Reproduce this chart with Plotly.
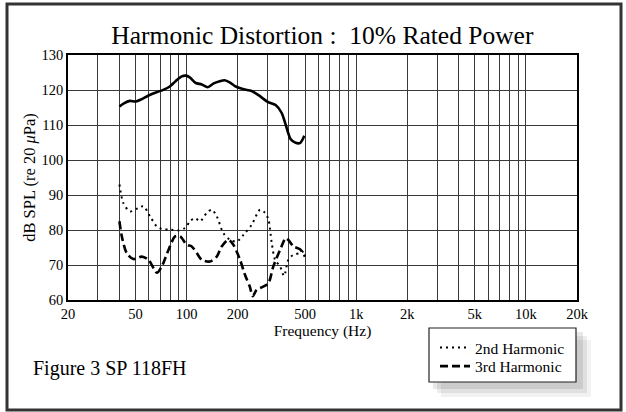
import plotly.graph_objects as go

# ---- data ----
fund_freq = [40.2, 42.7, 46.3, 50.2, 54.5, 60.1, 65.9, 73.4, 79.6, 86.4, 93.7, 98.9, 104.4,
             113.2, 122.8, 133.2, 144.5, 156.8, 167.3, 179.5, 194.6, 217, 241.8, 269.5,
             300.4, 334.7, 362.9, 383.2, 411, 438.8, 468, 494]
fund_db = [115.3, 116.2, 116.9, 116.7, 117.4, 118.5, 119.3, 120.1, 121.0, 122.6, 123.9, 124.1, 123.6,
           122.0, 121.6, 120.8, 121.9, 122.5, 122.8, 122.2, 121.0, 120.2, 119.7, 118.3,
           116.6, 115.7, 113.5, 110.2, 105.9, 104.9, 104.9, 106.9]

h2_freq = [40.2, 42.4, 46.4, 52.0, 55.6, 60.9, 66.8, 71.4, 80, 89.4, 98, 104.9, 112.2, 120.1,
           131.5, 140.8, 150.6, 164.8, 180.4, 197.6, 216.2, 242, 271, 290, 303.5, 317.5,
           332, 355.6, 375.5, 398, 425.9, 466.3, 499]
h2_db = [93.0, 87.7, 85.3, 86.3, 86.8, 83.9, 81.0, 80.3, 80.1, 79.9, 80.6, 82.5, 83.4, 82.5,
         84.9, 85.8, 83.9, 79.1, 77.2, 76.7, 78.6, 81.5, 85.8, 84.9, 83.0, 76.3,
         71.5, 69.6, 66.9, 71.5, 72.9, 73.4, 74.3]

h3_freq = [40.2, 41.5, 44.4, 48.6, 54.4, 59.6, 66.8, 71.4, 78.2, 85.6, 91.6, 100.2, 107.2, 114.8,
           122.8, 137.5, 150.6, 161, 176.3, 188.6, 206.5, 220.8, 236, 245, 259, 282.7,
           303.5, 324.5, 355.6, 385, 405, 426, 466, 499]
h3_db = [82.5, 78.2, 73.4, 71.7, 72.4, 71.5, 67.8, 69.6, 74.3, 78.2, 78.2, 75.8, 75.3, 73.4,
         71.5, 71.0, 72.4, 75.3, 77.2, 75.8, 71.5, 67.2, 63.8, 61.1, 62.9, 63.8,
         64.8, 69.6, 74.3, 77.7, 76.7, 75.3, 74.5, 72.4]

grid_vals = [20, 30, 40, 50, 60, 70, 80, 90, 100, 200, 300, 400, 500, 600, 700, 800, 900,
             1000, 2000, 3000, 4000, 5000, 6000, 7000, 8000, 9000, 10000, 20000]
x_labels = {20: "20", 50: "50", 100: "100", 200: "200", 500: "500", 1000: "1k",
            2000: "2k", 5000: "5k", 10000: "10k", 20000: "20k"}
y_ticks = [60, 70, 80, 90, 100, 110, 120, 130]

W, H = 626, 412
L, R, T, B = 68, 577, 55, 300


def px(x):
    return (x - L) / (R - L)


def py(y):
    return (B - y) / (B - T)


FONT = "Liberation Serif"

fig = go.Figure()
fig.add_trace(go.Scatter(x=fund_freq, y=fund_db, mode="lines", showlegend=False,
                         line=dict(color="black", width=2.6, shape="spline", smoothing=0.8)))
fig.add_trace(go.Scatter(x=h2_freq, y=h2_db, mode="lines", name="2nd Harmonic", legend="legend",
                         line=dict(color="black", width=2, dash="2px,4px", shape="spline", smoothing=0.8)))
fig.add_trace(go.Scatter(x=h3_freq, y=h3_db, mode="lines", name="3rd Harmonic", legend="legend2",
                         line=dict(color="black", width=2.6, dash="8px,4px", shape="spline", smoothing=0.8)))

shapes = []
# legend shadow (soft)
for op, d in [(0.05, 12), (0.07, 8), (0.09, 4)]:
    shapes.append(dict(type="rect", xref="paper", yref="paper",
                       x0=px(429 + d), x1=px(576 + d + 3), y0=py(382 + d + 3), y1=py(328 + d),
                       line=dict(width=0), fillcolor=f"rgba(0,0,0,{op})", layer="below"))
# legend box
shapes.append(dict(type="rect", xref="paper", yref="paper",
                   x0=px(429), x1=px(576), y0=py(382), y1=py(328),
                   line=dict(color="#222", width=1.2), fillcolor="white", layer="below"))
# outer frame
shapes.append(dict(type="rect", xref="paper", yref="paper",
                   x0=px(7), x1=px(621), y0=py(410), y1=py(4),
                   line=dict(color="#333", width=3), fillcolor="rgba(0,0,0,0)"))

leg_common = dict(xanchor="left", yanchor="middle", bgcolor="rgba(0,0,0,0)", borderwidth=0,
                  font=dict(family=FONT, size=15.5))

fig.update_layout(
    width=W, height=H,
    margin=dict(l=L, r=W - R, t=T, b=H - B),
    paper_bgcolor="white", plot_bgcolor="white",
    font=dict(family=FONT, color="black", size=14),
    title=dict(text="Harmonic Distortion :  10% Rated Power", x=0.515, xanchor="center",
               y=1 - 35 / H, yanchor="middle", font=dict(family=FONT, size=25.5, color="black")),
    xaxis=dict(type="log", range=[1.30103, 4.30103], tickvals=grid_vals,
               ticktext=[x_labels.get(v, "") for v in grid_vals],
               showgrid=True, gridcolor="#3a3a3a", gridwidth=1, zeroline=False,
               showline=True, linecolor="black", linewidth=1.5, mirror=True,
               ticks="", tickfont=dict(family=FONT, size=14.5),
               title=dict(text="Frequency (Hz)", standoff=2, font=dict(family=FONT, size=15.5))),
    yaxis=dict(range=[60, 130], tickvals=y_ticks, showgrid=True, gridcolor="#3a3a3a", gridwidth=1,
               zeroline=False, showline=True, linecolor="black", linewidth=1.5, mirror=True,
               ticks="", tickfont=dict(family=FONT, size=14.5),
               title=dict(text="dB SPL (re 20 <i>μ</i>Pa)", standoff=2, font=dict(family=FONT, size=16.5))),
    legend=dict(x=px(435), y=py(348), **leg_common),
    legend2=dict(x=px(435), y=py(366.5), **leg_common),
    shapes=shapes,
    annotations=[dict(text="Figure 3 SP 118FH", xref="paper", yref="paper", x=px(31), y=py(368),
                      xanchor="left", yanchor="middle", showarrow=False,
                      font=dict(family=FONT, size=20, color="black"))],
)

fig.write_html("out.html", config={"displayModeBar": False},
               post_script="document.body.style.margin='0';")
